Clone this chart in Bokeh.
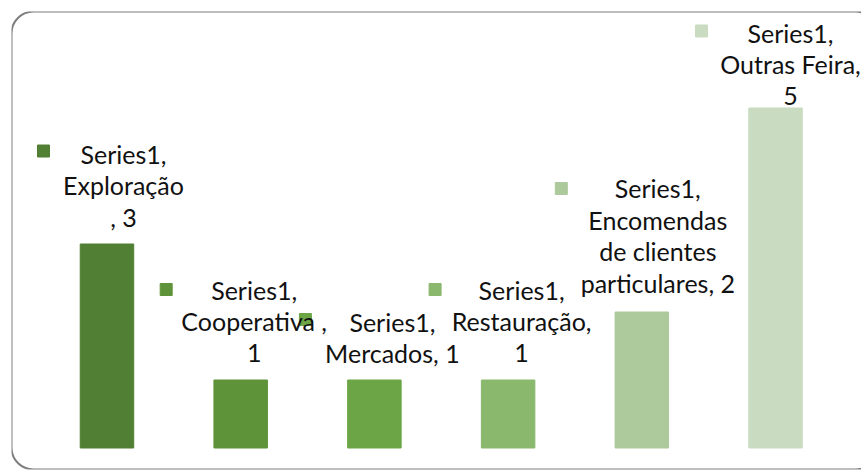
from bokeh.plotting import figure
from bokeh.models import Range1d, BoxAnnotation, ColumnDataSource
from bokeh.core.properties import value
from bokeh.embed import file_html
from bokeh.resources import INLINE

# ---- data ----
series_name = "Series1"
categories = ["Exploração", "Cooperativa", "Mercados", "Restauração",
              "Encomendas de clientes particulares", "Outras Feira"]
values = [3, 1, 1, 1, 2, 5]
label_texts = [
    "Series1,\nExploração\n, 3",
    "Series1,\nCooperativa ,\n1",
    "Series1,\nMercados, 1",
    "Series1,\nRestauração,\n1",
    "Series1,\nEncomendas\nde clientes\nparticulares, 2",
    "Series1,\nOutras Feira,\n5",
]

# ---- styles / layout ----
colors = ["#517f33", "#5f933a", "#6ca545", "#8ab86d", "#adca9c", "#c9dcc1"]
text_dx = [16.5, 13.5, 18, 13.5, 16, 15]
text_dy = [-58.5, -59, -42.5, -59, -76.5, -44]
key_dx = [-63.5, -74.5, -69, -73, -80.5, -74]
key_dy = [-93, -90.5, -60.5, -90.5, -123.5, -77]

W, H = 861, 473
BL, BT, BR, BB = 11, 11, 0, 4
FRAME_W, FRAME_H = W - BL - BR, H - BT - BB
X0, X1, Y0, Y1 = -0.714, 5.643, -0.316, 6.419
px_x = FRAME_W / (X1 - X0)
px_y = FRAME_H / (Y1 - Y0)

xs = list(range(len(categories)))
key_x = [x + d / px_x for x, d in zip(xs, key_dx)]
key_y = [v - d / px_y for v, d in zip(values, key_dy)]

src = ColumnDataSource(dict(x=xs, top=values, color=colors, label=label_texts,
                            tdx=text_dx, tdy=text_dy, kx=key_x, ky=key_y))

p = figure(width=W, height=H, output_backend="svg", toolbar_location=None,
           x_range=Range1d(X0, X1), y_range=Range1d(Y0, Y1),
           min_border_left=BL, min_border_top=BT, min_border_right=BR, min_border_bottom=BB)
p.axis.visible = False
p.grid.visible = False
p.outline_line_color = None
p.background_fill_color = "white"
p.border_fill_color = "white"

frame = BoxAnnotation(right=W + 5, right_units="screen",
                      fill_color=None, fill_alpha=0, line_color="#7f7f7f",
                      line_alpha=1.0, line_width=2,
                      border_radius=22, level="underlay")
p.add_layout(frame)

p.vbar(x="x", top="top", bottom=0, width=0.4, fill_color="color",
       line_color="color", source=src)

p.scatter(x="kx", y="ky", marker="square", size=12, fill_color="color",
          line_color="color", source=src)

p.text(x="x", y="top", text="label", x_offset="tdx", y_offset="tdy",
       text_align="center", text_baseline="middle",
       text_font=value("Lato"), text_font_size="25px", text_color="#111111",
       text_line_height=1.045, source=src)

open("out.html", "w").write(file_html(p, INLINE))
